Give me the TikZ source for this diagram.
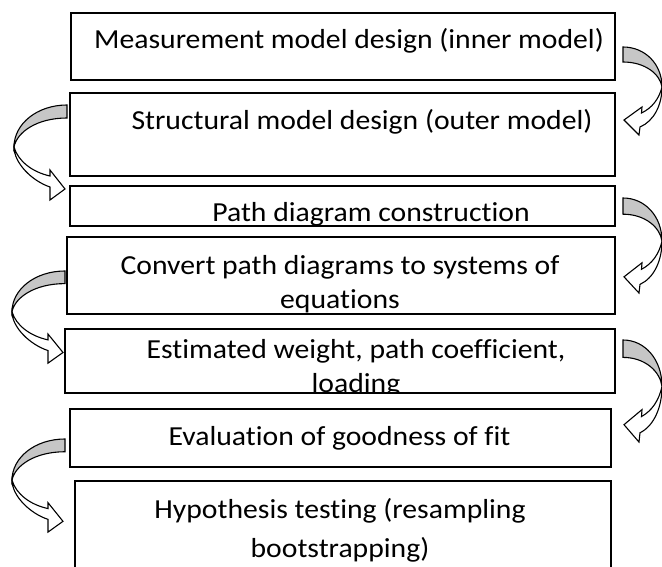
\documentclass[tikz,border=0pt]{standalone}
\usepackage{fontspec}
\setmainfont{Carlito}[FakeStretch=1.08, Ligatures=NoCommon]
\usetikzlibrary{calc}

\tikzset{
  stepbox/.style={draw, line width=1.6pt, inner sep=0pt, outer sep=0pt, anchor=north west},
  steptext/.style={inner sep=0pt, anchor=base, align=center, font=\fontsize{27.5}{34}\selectfont},
  turnfill/.style={fill=gray!45, line width=1.1pt},
  % bent block arrow on the left side, tail at the origin
  pics/leftturn/.style={code={
    \filldraw[turnfill] (0,0) .. controls (-30,0) and (-53,19) .. (-53,42)
      .. controls (-50,27) and (-30,13) .. (0,13) -- cycle;
    \filldraw[fill=white, line width=1.1pt] (-53,42) .. controls (-53,58) and (-35,76) .. (-17,82)
      -- (-17,95) -- (-2,84) -- (-17,65) -- (-17,71)
      .. controls (-35,67) and (-49,56) .. (-53,42) -- cycle;
  }},
  % same on the right side
  pics/rightturn/.style={code={
    \filldraw[turnfill] (0,0) .. controls (22,0) and (39,17) .. (39,40)
      .. controls (37,27) and (22,15) .. (0,15) -- cycle;
    \filldraw[fill=white, line width=1.1pt] (39,40) .. controls (39,58) and (31,74) .. (17,80)
      -- (16,88) -- (1,73) -- (19,60) -- (18.5,66)
      .. controls (29,61) and (36,52) .. (39,40) -- cycle;
  }},
}

\begin{document}
\begin{tikzpicture}[x=1pt,y=-1pt]
\useasboundingbox (0,0) rectangle (662,567);
\clip (0,0) rectangle (662,567);

% the steps
\node[stepbox, minimum width=544pt, minimum height=67pt] (b1) at (71,13) {};
\node[stepbox, minimum width=545pt, minimum height=83pt] (b2) at (70,93) {};
\node[stepbox, minimum width=545pt, minimum height=40pt] (b3) at (70,186) {};
\node[stepbox, minimum width=548pt, minimum height=77pt] (b4) at (67,237) {};
\node[stepbox, minimum width=550pt, minimum height=64pt] (b5) at (65,329) {};
\node[stepbox, minimum width=541pt, minimum height=58pt] (b6) at (70,409) {};
\node[stepbox, minimum width=536pt, minimum height=100pt] (b7) at (75,481) {};

% texts sit on the baseline of their last line
\node[steptext] (t1) at (349,49) {Measurement model design (inner model)};
\node[steptext] (t2) at (362,130) {Structural model design (outer model)};
\node[steptext] (t3) at (371,222) {Path diagram construction};
\node[steptext] (t4) at (340,308) {Convert path diagrams to systems of\\equations};
\begin{scope}
\clip (b5.north west) rectangle (b5.south east);
\node[steptext] (t5) at (356,392) {Estimated weight, path coefficient,\\loading};
\end{scope}
\node[steptext] (t6) at (339.5,445) {Evaluation of goodness of fit};
\node[steptext, font=\fontsize{27.5}{39}\selectfont] (t7) at (340,557) {Hypothesis testing (resampling\\bootstrapping)};

% arrows between the steps
\pic at (623,47) {rightturn};
\pic at (67,105) {leftturn};
\pic[yscale=1.08] at (623,198) {rightturn};
\pic[yscale=0.97] at (65,271) {leftturn};
\pic[yscale=1.16] at (623,340) {rightturn};
\pic[yscale=0.98] at (65,439) {leftturn};
\end{tikzpicture}
\end{document}
